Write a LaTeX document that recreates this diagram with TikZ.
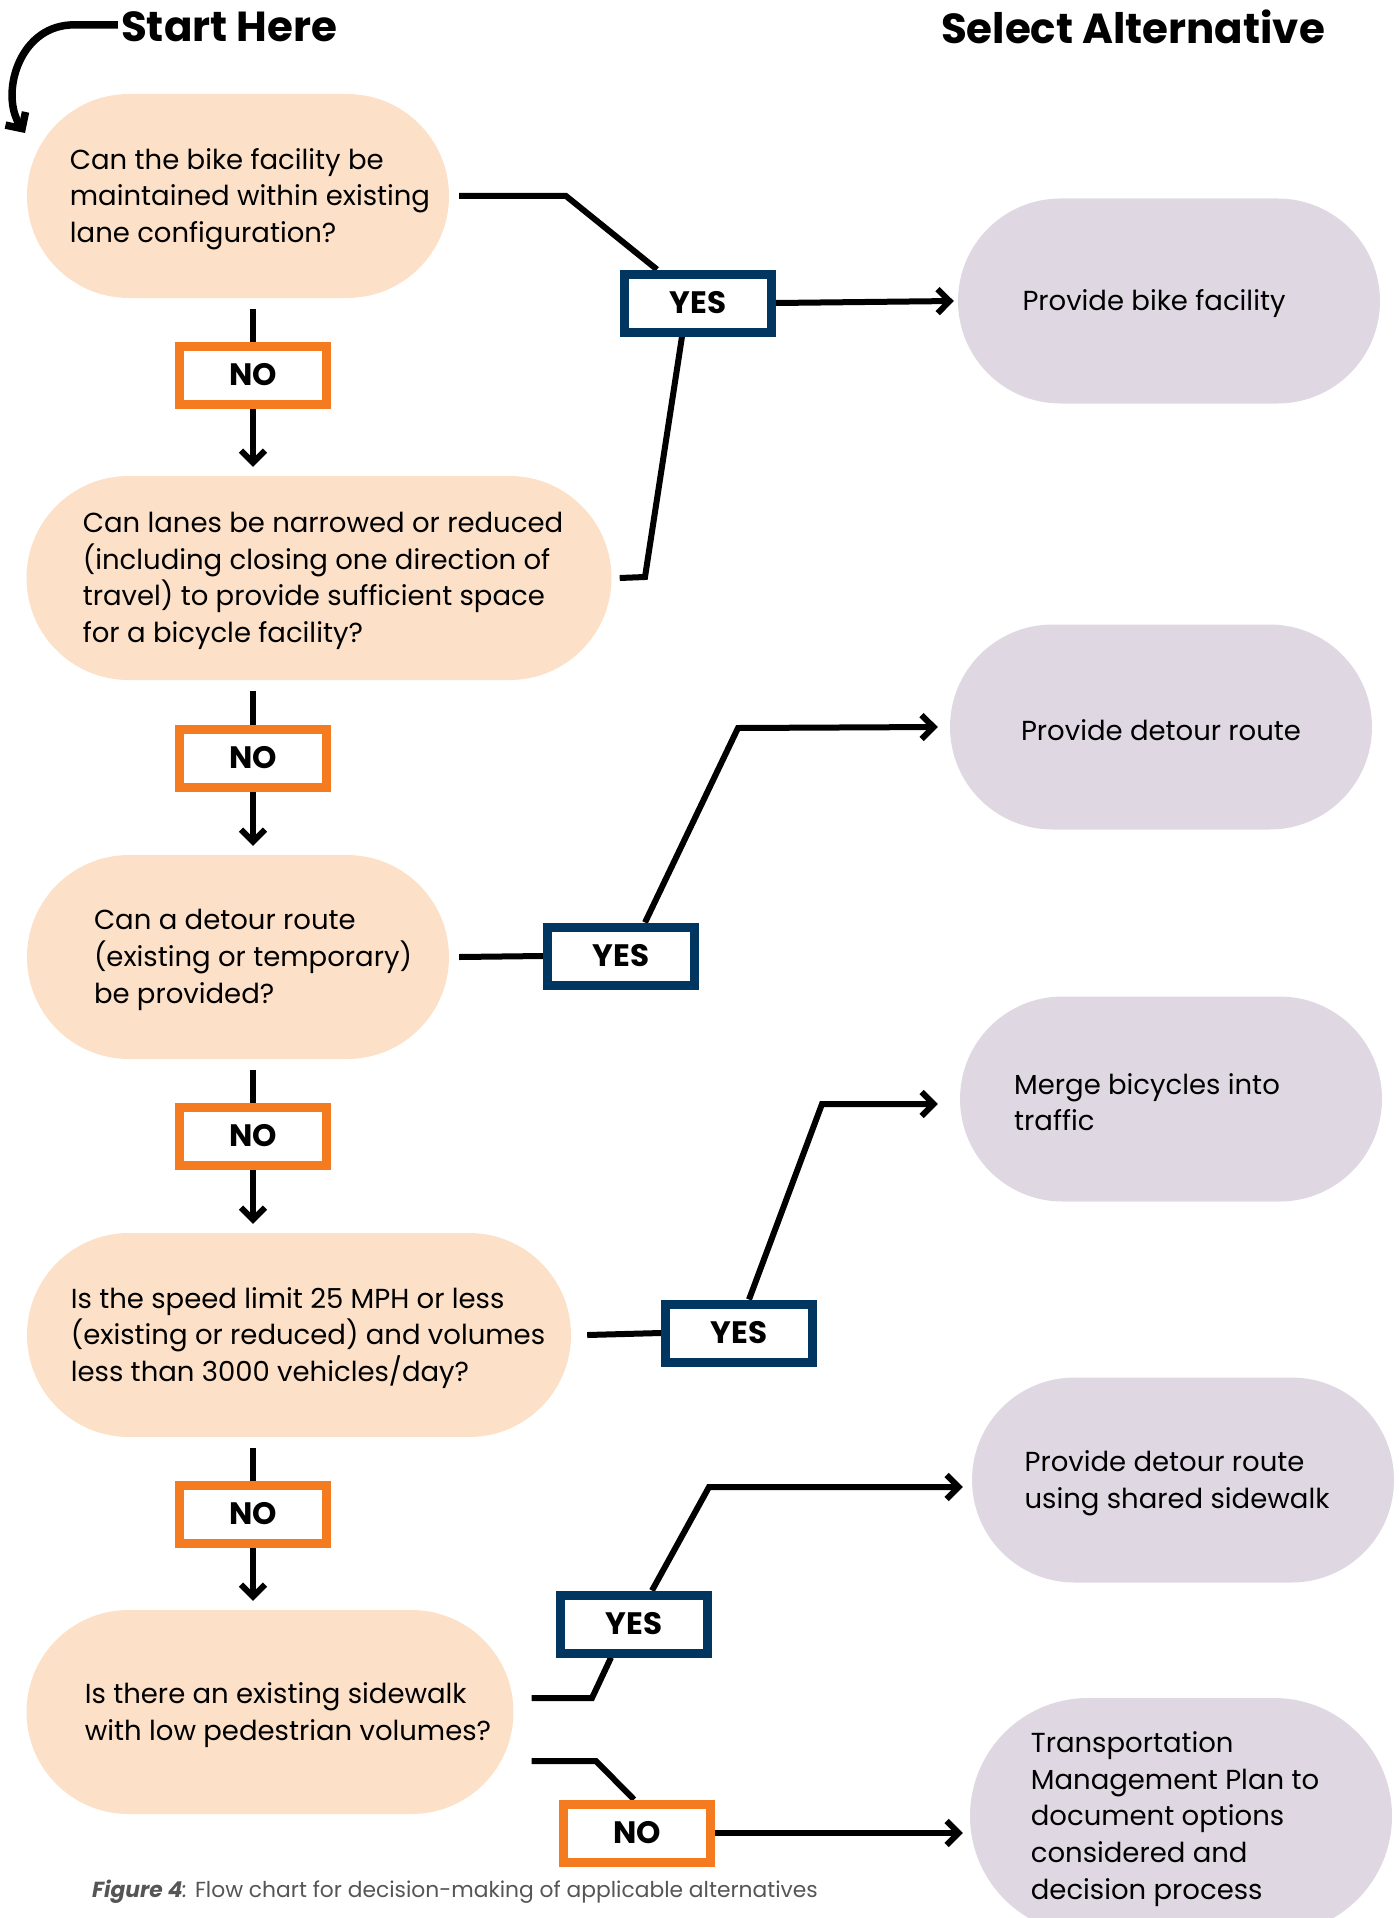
\documentclass[tikz,border=0pt]{standalone}
\usepackage{fontspec}
\setmainfont{Poppins}
\usetikzlibrary{arrows.meta,shapes.misc,calc,backgrounds}
\definecolor{peach}{HTML}{FCE0C7}
\definecolor{lilac}{HTML}{DFD8E3}
\definecolor{noorange}{HTML}{F47B20}
\definecolor{yesnavy}{HTML}{003660}
\definecolor{capgray}{HTML}{555555}
\begin{document}
\begin{tikzpicture}[x=1pt,y=-1pt,
  q/.style={rounded rectangle, fill=peach, minimum height=204, inner sep=0pt},
  alt/.style={rounded rectangle, fill=lilac, minimum width=422, minimum height=205, inner sep=0pt},
  txt/.style={inner sep=0pt, align=left, font=\fontsize{27.5}{36.7}\selectfont},
  lbl/.style={fill=white, line width=9pt, minimum width=147, minimum height=58, inner sep=0pt,
    font=\bfseries\fontsize{31}{34}\selectfont},
  nobox/.style={lbl, draw=noorange},
  yesbox/.style={lbl, draw=yesnavy},
  conn/.style={line width=6pt, line join=miter},
  arr/.style={conn, -{Straight Barb[length=12pt,width=24pt]}},
  title/.style={inner sep=0pt, font=\bfseries\fontsize{42}{48}\selectfont}
]
\useasboundingbox (0,0) rectangle (1398,1918);
\clip (0,0) rectangle (1398,1918);

% titles
\node[title] (start) at (229,27) {Start Here};
\node[title] (select) at (1133,27) {Select Alternative};

% question boxes
\node[q, minimum width=422] (b1) at (238,196) {};
\node[q, minimum width=585] (b2) at (319,578) {};
\node[q, minimum width=422] (b3) at (238,957) {};
\node[q, minimum width=544] (b4) at (299,1335) {};
\node[q, minimum width=487] (b5) at (270,1712) {};
\node[txt] (b1t) at ($(b1)+(12,3)$) {Can the bike facility be\\maintained within existing\\lane configuration?};
\node[txt] (b2t) at ($(b2)+(4,3)$) {Can lanes be narrowed or reduced\\(including closing one direction of\\travel) to provide sufficient space\\for a bicycle facility?};
\node[txt] (b3t) at ($(b3)+(15,3)$) {Can a detour route\\(existing or temporary)\\be provided?};
\node[txt] (b4t) at ($(b4)+(9,3)$) {Is the speed limit 25 MPH or less\\(existing or reduced) and volumes\\less than 3000 vehicles/day?};
\node[txt] (b5t) at ($(b5)+(18,3)$) {Is there an existing sidewalk\\with low pedestrian volumes?};

% alternatives
\node[alt] (p1) at (1169,301) {};
\node[alt] (p2) at (1161,727) {};
\node[alt] (p3) at (1171,1099) {};
\node[alt] (p4) at (1183,1480) {};
\node[alt, minimum height=236] (p5) at (1181,1816) {};
\node[txt] (p1t) at ($(p1)+(-15,3)$) {Provide bike facility};
\node[txt] (p2t) at ($(p2)+(0,3)$) {Provide detour route};
\node[txt] (p3t) at ($(p3)+(-24,3)$) {Merge bicycles into\\traffic};
\node[txt] (p4t) at ($(p4)+(-6,3)$) {Provide detour route\\using shared sidewalk};
\node[txt] (p5t) at ($(p5)+(-6,3)$) {Transportation\\Management Plan to\\document options\\considered and\\decision process};

% NO / YES labels
\node[nobox] (n1) at (253,375) {NO};
\node[nobox] (n2) at (253,758) {NO};
\node[nobox] (n3) at (253,1136) {NO};
\node[nobox] (n4) at (253,1514) {NO};
\node[nobox] (n5) at (637,1833) {NO};
\node[yesbox] (y1) at (698,303) {YES};
\node[yesbox] (y2) at (621,956) {YES};
\node[yesbox] (y3) at (739,1333) {YES};
\node[yesbox] (y4) at (634,1624) {YES};

% caption
\node[anchor=west, text=capgray, inner sep=0pt, font=\fontsize{21.8}{24}\selectfont] (cap) at (92,1892)
  {\textbf{\textit{Figure 4}}\textit{:} Flow chart for decision-making of applicable alternatives};

\begin{scope}[on background layer]
% start arrow
\draw[arr, line width=7.5pt] ($(start.west)+(-3,-2)$) -- (70,25) .. controls (18,28) and (0,95) .. (25,133);
% down chain
\draw[conn] ($(n1.north |- b1.south)+(0,11)$) -- (n1.north);
\draw[arr] (n1.south) -- ($(n1.south |- b2.north)+(0,-9)$);
\draw[conn] ($(n2.north |- b2.south)+(0,11)$) -- (n2.north);
\draw[arr] (n2.south) -- ($(n2.south |- b3.north)+(0,-9)$);
\draw[conn] ($(n3.north |- b3.south)+(0,11)$) -- (n3.north);
\draw[arr] (n3.south) -- ($(n3.south |- b4.north)+(0,-9)$);
\draw[conn] ($(n4.north |- b4.south)+(0,11)$) -- (n4.north);
\draw[arr] (n4.south) -- ($(n4.south |- b5.north)+(0,-9)$);
% yes 1
\draw[conn] ($(b1.east)+(10,0)$) -- (566,196) -- ($(y1.north)+(-41,0)$);
\draw[conn] ($(b2.east)+(8,0)$) -- (645,577) -- ($(y1.south)+(-16,0)$);
\draw[arr] (y1.east) -- ($(p1.west)+(-4,0)$);
% yes 2
\draw[conn] ($(b3.east)+(10,0)$) -- (y2.west);
\draw[arr] ($(y2.north)+(24,0)$) -- (738,728) -- ($(p2.west)+(-12,0)$);
% yes 3
\draw[conn] ($(b4.east)+(16,0)$) -- (y3.west);
\draw[arr] ($(y3.north)+(10,0)$) -- (822,1104) -- ($(p3.west)+(-22,5)$);
% yes 4
\draw[conn] ($(b5.east)+(18,-14)$) -- (592,1698) -- ($(y4.south)+(-23,0)$);
\draw[arr] ($(y4.north)+(18,0)$) -- (709,1487) -- ($(p4.west)+(-9,7)$);
% no 5
\draw[conn] ($(b5.east)+(18,49)$) -- (596,1761) -- ($(n5.north)+(-3,0)$);
\draw[arr] (n5.east) -- ($(p5.west)+(-7,17)$);
\end{scope}
\end{tikzpicture}
\end{document}
